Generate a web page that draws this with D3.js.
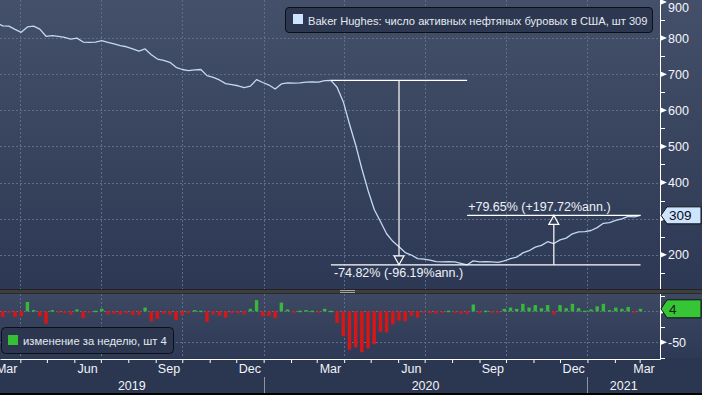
<!DOCTYPE html>
<html>
<head>
<meta charset="utf-8">
<script src="https://cdn.jsdelivr.net/npm/d3@7"></script>
<style>
html,body{margin:0;padding:0;background:#2b3651;overflow:hidden}
svg{display:block}
text{font-family:"Liberation Sans",Arial,sans-serif}
</style>
</head>
<body>
<svg id="chart" width="702" height="395"></svg>
<script>
// ---------------- DATA ----------------
const firstWeek = "2019-03-01"; // weekly (Friday) observations
const rigCounts = [
 843,834,833,824,816,831,833,825,805,807,
 805,802,797,800,789,788,789,793,788,784,
 779,776,770,764,770,754,742,738,733,719,
 713,710,712,713,696,691,684,674,671,668,
 663,667,685,677,670,659,673,676,675,676,
 678,679,678,682,683,664,624,562,504,438,
 378,325,292,258,237,222,206,199,189,188,
 185,181,180,181,180,176,172,183,180,181,
 180,179,183,189,193,205,211,221,226,236,
 231,241,246,258,263,264,267,275,287,289,
 295,299,306,305,309
];
const weeklyChanges = [
 -10,-9,-1,-9,-8,15,2,-8,-20,2,
 -2,-3,-5,3,-11,-1,1,4,-5,-4,
 -5,-3,-6,-6,6,-16,-12,-4,-5,-14,
 -6,-3,2,1,-17,-5,-7,-10,-3,-3,
 -5,4,18,-8,-7,-11,14,3,-1,1,
 2,1,-1,4,1,-19,-40,-62,-58,-66,
 -60,-53,-33,-34,-21,-15,-16,-7,-10,-1,
 -3,-4,-1,1,-1,-4,-4,11,-3,1,
 -1,-1,4,6,4,12,6,10,5,10,
 -5,10,5,12,5,1,3,8,12,2,
 6,4,7,-1,4
];
const mainMajorTicks = [200,300,400,500,600,700,800,900];
const mainMinorTicks = [150,250,350,450,550,650,750,850];
const mainGridValues = [200,300,400,500,600,700,800];
const lowMajorTicks = [0,-50];
const lowMinorTicks = [25,-25,-75];
const lowGridValues = [0,-50];
const monthTickLabels = ["Mar","Jun","Sep","Dec"];
const yearLabels = ["2019","2020","2021"];
const legendMain = "Baker Hughes: число активных нефтяных буровых в США, шт 309";
const legendLow = "изменение за неделю, шт 4";
const lastValueLabel = "309";
const lastChangeLabel = "4";
// measurement annotations
const measureDates = ["2020-03-13","2020-08-14","2021-02-26"];
const measureValues = [683,172,309];
const measureTexts = ["-74.82% (-96.19%ann.)","+79.65% (+197.72%ann.)"];

// ---------------- LAYOUT ----------------
const W=702,H=395;
const plotRight=660;
const mainBottom=289, lowTop=294, lowBottom=358, axisY=359;
const shiftDays = 4; // plotting offset used by the source terminal

const parse = d3.utcParse("%Y-%m-%d");
const start = parse(firstWeek);
const dates = rigCounts.map((_,i)=>d3.utcDay.offset(start,7*i));

const x = d3.scaleUtc()
  .domain([new Date(Date.UTC(2019,2,9)), new Date(Date.UTC(2021,2,24))])
  .range([0, plotRight]);
const xd = d => x(d3.utcDay.offset(d, shiftDays));
const yMain = d3.scaleLinear().domain([100,900]).range([290.8,2]);
const yLow = d3.scaleLinear().domain([-75,25]).range([357.8,295.8]);

const svg = d3.select("#chart");
const defs = svg.append("defs");
function grad(id, c1, c2){
  const g = defs.append("linearGradient").attr("id",id).attr("x1",0).attr("y1",0).attr("x2",0).attr("y2",1);
  g.append("stop").attr("offset","0%").attr("stop-color",c1);
  g.append("stop").attr("offset","100%").attr("stop-color",c2);
}
grad("gMain","#444f69","#2d3954");
grad("gLow","#3d4963","#2e3a55");
defs.append("clipPath").attr("id","cMain").append("rect").attr("x",0).attr("y",0).attr("width",plotRight).attr("height",mainBottom);
defs.append("clipPath").attr("id","cLow").append("rect").attr("x",0).attr("y",lowTop).attr("width",plotRight).attr("height",lowBottom-lowTop);

// backgrounds
svg.append("rect").attr("x",0).attr("y",0).attr("width",W).attr("height",mainBottom).attr("fill","url(#gMain)");
svg.append("rect").attr("x",0).attr("y",lowTop).attr("width",W).attr("height",lowBottom-lowTop).attr("fill","url(#gLow)");
svg.append("rect").attr("x",0).attr("y",lowBottom).attr("width",W).attr("height",H-lowBottom).attr("fill","#2b3651");
svg.append("rect").attr("x",0).attr("y",393).attr("width",W).attr("height",2).attr("fill","#000");
// separator
svg.append("rect").attr("x",0).attr("y",mainBottom).attr("width",W).attr("height",lowTop-mainBottom).attr("fill","#3e3e40");
svg.append("line").attr("x1",0).attr("x2",W).attr("y1",mainBottom+0.5).attr("y2",mainBottom+0.5).attr("stroke","#222");
svg.append("line").attr("x1",0).attr("x2",W).attr("y1",lowTop-0.5).attr("y2",lowTop-0.5).attr("stroke","#2a2a2a");
[290.5,292.5].forEach(yy=>svg.append("line").attr("x1",340).attr("x2",355).attr("y1",yy).attr("y2",yy).attr("stroke","#a8a8a8"));

// gridlines
const quarterDates = d3.utcMonth.every(3).range(new Date(Date.UTC(2019,2,15)), x.domain()[1]);
const grid = svg.append("g").attr("stroke","#5f6e88").attr("stroke-dasharray","2,2").attr("stroke-width",1);
quarterDates.forEach(d=>{
  const xx = Math.round(x(d))+0.5;
  grid.append("line").attr("x1",xx).attr("x2",xx).attr("y1",0).attr("y2",mainBottom);
  grid.append("line").attr("x1",xx).attr("x2",xx).attr("y1",lowTop).attr("y2",lowBottom);
});
mainGridValues.forEach(v=>{
  const yy=Math.round(yMain(v))+0.5;
  grid.append("line").attr("x1",0).attr("x2",plotRight).attr("y1",yy).attr("y2",yy);
});
lowGridValues.forEach(v=>{
  const yy=Math.round(yLow(v))+0.5;
  grid.append("line").attr("x1",0).attr("x2",plotRight).attr("y1",yy).attr("y2",yy);
});

// bars
const barW = 3.4;
svg.append("g").attr("clip-path","url(#cLow)").selectAll("rect").data(weeklyChanges.map((v,i)=>({v,d:dates[i]})).filter(o=>o.v!==0))
  .join("rect")
  .attr("x",o=>xd(o.d)-barW/2)
  .attr("width",barW)
  .attr("y",o=>Math.min(yLow(o.v),yLow(0)))
  .attr("height",o=>Math.max(1.5,Math.abs(yLow(o.v)-yLow(0))))
  .attr("fill",o=>o.v>0?"#36b936":"#dc1414");

// main line
const line = d3.line().x((v,i)=>xd(dates[i])).y(v=>yMain(v));
svg.append("path").attr("clip-path","url(#cMain)").datum(rigCounts).attr("d",line)
  .attr("fill","none").attr("stroke","#c3d8f2").attr("stroke-width",1.3).attr("stroke-linejoin","round");

// measurement annotations
const mD = measureDates.map(s=>xd(parse(s)));
const ann = svg.append("g").attr("stroke","#ffffff").attr("stroke-width",1.2).attr("fill","none");
function hline(x1,x2,v){ ann.append("line").attr("x1",x1).attr("x2",x2).attr("y1",yMain(v)).attr("y2",yMain(v)); }
hline(mD[0],mD[1],measureValues[0]);
hline(mD[0],mD[2],measureValues[1]);
hline(mD[1],mD[2],measureValues[2]);
function arrow(xm, vFrom, vTo){
  const y1=yMain(vFrom), y2=yMain(vTo);
  const dir = y2>y1?1:-1;
  const hh=9, hw=5;
  ann.append("line").attr("x1",xm).attr("x2",xm).attr("y1",y1).attr("y2",y2-dir*hh);
  ann.append("path").attr("d",`M${xm},${y2} L${xm-hw},${y2-dir*hh} L${xm+hw},${y2-dir*hh} Z`);
}
arrow((mD[0]+mD[1])/2, measureValues[0], measureValues[1]);
arrow((mD[1]+mD[2])/2, measureValues[1], measureValues[2]);
svg.append("text").attr("x",mD[0]+3).attr("y",yMain(measureValues[1])+12).attr("fill","#eef2f8").attr("font-size",12.5).text(measureTexts[0]);
svg.append("text").attr("x",mD[1]+1).attr("y",yMain(measureValues[2])-4).attr("fill","#eef2f8").attr("font-size",12.5).text(measureTexts[1]);

// fit text to a target width by adjusting font size
function fitText(sel, target, base){
  sel.attr("font-size",base);
  const len = sel.node().getComputedTextLength();
  if(len>target) sel.attr("font-size", base*target/len);
}

// legends
svg.append("rect").attr("x",285.5).attr("y",7.5).attr("width",367).attr("height",25).attr("rx",3.5)
  .attr("fill","#2d3850").attr("stroke","#0c0f17");
svg.append("rect").attr("x",293).attr("y",14).attr("width",10).attr("height",10).attr("fill","#cde4ff");
fitText(svg.append("text").attr("x",308).attr("y",24.5).attr("fill","#e4e9f2").text(legendMain), 340, 13);

svg.append("rect").attr("x",1.5).attr("y",327.5).attr("width",172).attr("height",26).attr("rx",4)
  .attr("fill","#2c374f").attr("stroke","#0c0f17");
svg.append("rect").attr("x",8).attr("y",335).attr("width",10).attr("height",10).attr("fill","#36c036");
fitText(svg.append("text").attr("x",23).attr("y",345).attr("fill","#e4e9f2").text(legendLow), 144, 13);

// bottom axis
const xAxis = d3.axisBottom(x).tickValues(d3.utcMonth.range(x.domain()[0], x.domain()[1])).tickSize(4).tickSizeOuter(0).tickFormat("");
const gx = svg.append("g").attr("transform",`translate(0,${axisY})`).call(xAxis);
gx.selectAll("path,line").attr("stroke","#ffffff");
// month labels (centred in the month)
const labelMonths = d3.utcMonth.range(new Date(Date.UTC(2019,2,1)), x.domain()[1]).filter(d=>d.getUTCMonth()%3===2);
labelMonths.forEach(d=>{
  let cx = (x(d)+x(d3.utcMonth.offset(d,1)))/2;
  cx = Math.min(cx, plotRight-16);
  svg.append("text").attr("x",cx).attr("y",373).attr("text-anchor","middle").attr("fill","#f2f4f8").attr("font-size",12.5)
    .text(monthTickLabels[Math.floor(d.getUTCMonth()/3)]);
});
// year labels and separators
const yearStarts = [x.domain()[0], new Date(Date.UTC(2020,0,1)), new Date(Date.UTC(2021,0,1)), x.domain()[1]];
yearLabels.forEach((t,i)=>{
  const a = x(yearStarts[i]), b = x(yearStarts[i+1]);
  svg.append("text").attr("x",(a+b)/2).attr("y",390).attr("text-anchor","middle").attr("fill","#f2f4f8").attr("font-size",12.5).text(t);
  if(i>0) svg.append("line").attr("x1",Math.round(a)+0.5).attr("x2",Math.round(a)+0.5).attr("y1",377).attr("y2",393).attr("stroke","#8b94a7");
});

// right axes
const lastMain = rigCounts[rigCounts.length-1];
const lastChange = weeklyChanges[weeklyChanges.length-1];
const ra = svg.append("g");
ra.append("line").attr("x1",plotRight+0.5).attr("x2",plotRight+0.5).attr("y1",0).attr("y2",mainBottom).attr("stroke","#fff");
ra.append("line").attr("x1",plotRight+0.5).attr("x2",plotRight+0.5).attr("y1",lowTop).attr("y2",axisY+0.5).attr("stroke","#fff");
function major(yy,label,hidden){
  ra.append("path").attr("d",`M${plotRight},${yy-3} L${plotRight+7},${yy} L${plotRight},${yy+3} Z`).attr("fill","#fff");
  if(!hidden) ra.append("text").attr("x",plotRight+8).attr("y",Math.max(yy+4.5,12)).attr("fill","#f4f6fa").attr("font-size",12.5).text(label);
}
function minor(yy){
  ra.append("line").attr("x1",plotRight).attr("x2",plotRight+5).attr("y1",Math.round(yy)+0.5).attr("y2",Math.round(yy)+0.5).attr("stroke","#fff");
}
// labels that would sit under the last-value callouts are not shown (as in the source)
mainMajorTicks.forEach(v=>major(yMain(v), String(v), Math.abs(yMain(v)-yMain(lastMain))<13));
mainMinorTicks.forEach(v=>minor(yMain(v)));
lowMajorTicks.forEach(v=>major(yLow(v), String(v), Math.abs(yLow(v)-yLow(lastChange))<13));
lowMinorTicks.forEach(v=>minor(yLow(v)));

// last value callouts
function callout(yy, h, fill, textFill, label){
  const x0=plotRight+1, xb=plotRight+7, x1=W-1;
  svg.append("path").attr("d",`M${x0},${yy} L${xb},${yy-h/2} L${x1},${yy-h/2} L${x1},${yy+h/2} L${xb},${yy+h/2} Z`)
    .attr("fill",fill).attr("stroke","#101010").attr("stroke-width",1);
  svg.append("text").attr("x",plotRight+9).attr("y",yy+5).attr("fill",textFill).attr("font-size",13.5).text(label);
}
callout(yMain(lastMain), 17, "#cde4ff", "#0b0b14", lastValueLabel);
callout(yLow(lastChange), 18, "#36c536", "#0b1f0b", lastChangeLabel);
</script>
</body>
</html>
